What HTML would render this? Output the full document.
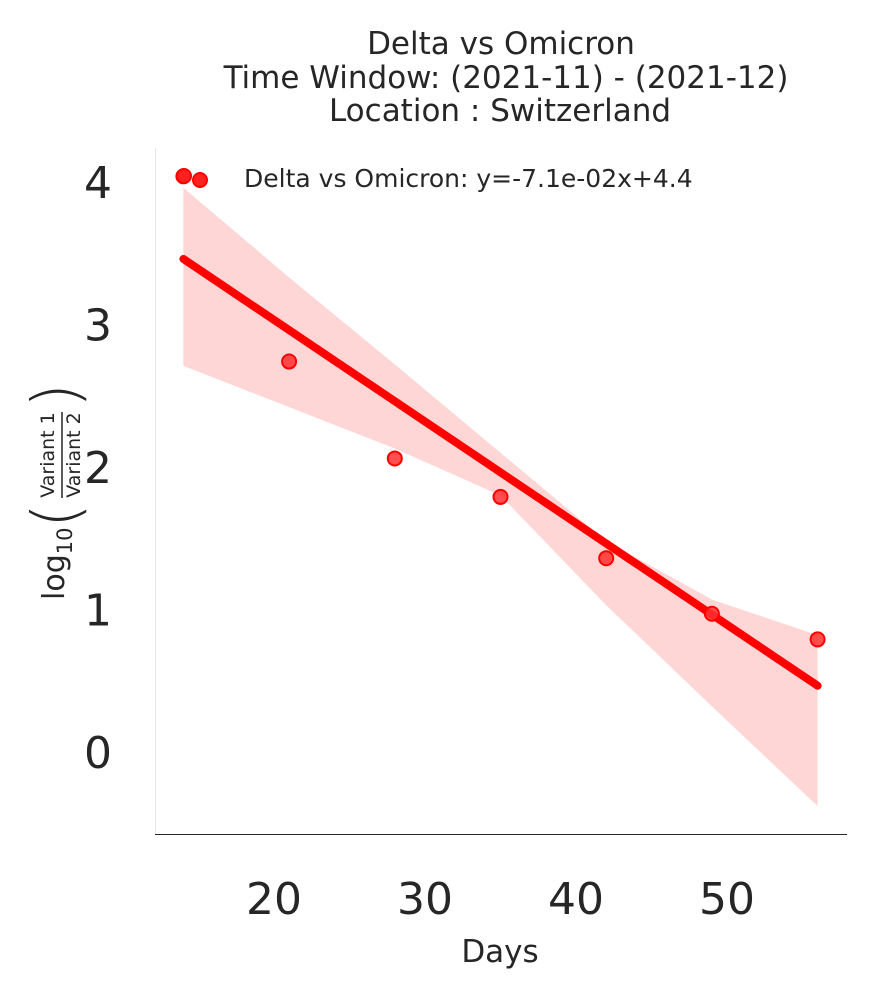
<!DOCTYPE html>
<html><head><meta charset="utf-8"><style>
body{margin:0;background:#fff;}
svg text{font-family:"DejaVu Sans","Liberation Sans",sans-serif;fill:#262626;}
</style></head><body>
<svg width="879" height="998" viewBox="0 0 879 998" xmlns="http://www.w3.org/2000/svg">
<g font-size="31" text-anchor="middle">
<text x="501" y="54">Delta vs Omicron</text>
<text x="506" y="88">Time Window: (2021-11) - (2021-12)</text>
<text x="500" y="121">Location : Switzerland</text>
</g>
<g id="band"></g><g id="fit"></g><g id="pts"></g><g id="ticks"></g>
<line x1="155.5" y1="148" x2="155.5" y2="834" stroke="#e6e6e6"/>
<line x1="155" y1="834.5" x2="847" y2="834.5" stroke="#262626"/>
<text x="500" y="962" font-size="31" text-anchor="middle">Days</text>
<g transform="translate(64,490) rotate(-90)">
<text x="-110" y="0" font-size="30">log<tspan font-size="21" dy="8">10</tspan></text>
<text x="-38" y="14" font-size="64" font-weight="300">(</text>
<text x="35" y="-10" font-size="19" text-anchor="middle">Variant 1</text>
<line x1="-8" y1="-2" x2="78" y2="-2" stroke="#262626" stroke-width="1.5"/>
<text x="35" y="16" font-size="19" text-anchor="middle">Variant 2</text>
<text x="82" y="14" font-size="64" font-weight="300">)</text>
</g>
<g>
<circle cx="184" cy="176" r="7" fill="#ff2020" stroke="#ff0000" stroke-width="2"/>
<circle cx="200" cy="180" r="7" fill="#ff2020" stroke="#ff0000" stroke-width="2"/>
<text x="244" y="187" font-size="25">Delta vs Omicron: y=-7.1e-02x+4.4</text>
</g>
</svg>
<script>
const days=[14,21,28,35,42,49,56];
const ratio=[4.04,2.74,2.06,1.79,1.36,0.97,0.79];
const ciUpper=[3.96,3.33,2.72,2.10,1.48,1.07,0.82];
const ciLower=[2.71,2.42,2.13,1.80,1.03,0.32,-0.38];
const slope=-0.0713, intercept=4.458;
const xTicks=[20,30,40,50];
const yTicks=[0,1,2,3,4];
const NS="http://www.w3.org/2000/svg";
const X=v=>274+(v-20)*15.1;
const Y=v=>752-v*142.5;
function mk(tag,attrs,parent){const e=document.createElementNS(NS,tag);for(const k in attrs)e.setAttribute(k,attrs[k]);document.getElementById(parent).appendChild(e);return e;}
let d=days.map((x,i)=>(i?'L':'M')+X(x)+','+Y(ciUpper[i])).join('')+days.slice().reverse().map((x,i)=>'L'+X(x)+','+Y(ciLower[days.length-1-i])).join('')+'Z';
const b=mk('path',{d:d,fill:'#ffd6d6'},'band');


const x0=days[0],x1=days[days.length-1];
const l=mk('line',{x1:X(x0),y1:Y(slope*x0+intercept),x2:X(x1),y2:Y(slope*x1+intercept),stroke:'#ff0000','stroke-width':8,'stroke-linecap':'round'},'fit');


days.forEach((x,i)=>{const c=mk('circle',{cx:X(x),cy:Y(ratio[i]),r:7,fill:'#ff3030',stroke:'#ff0000','stroke-width':2,'fill-opacity':0.85},'pts');

});
xTicks.forEach(t=>{const e=mk('text',{x:X(t),y:914,'font-size':44,'text-anchor':'middle'},'ticks');e.textContent=t;

});
yTicks.forEach(t=>{const e=mk('text',{x:112,y:Y(t)+16,'font-size':44,'text-anchor':'end'},'ticks');e.textContent=t;

});
</script>
</body></html>
